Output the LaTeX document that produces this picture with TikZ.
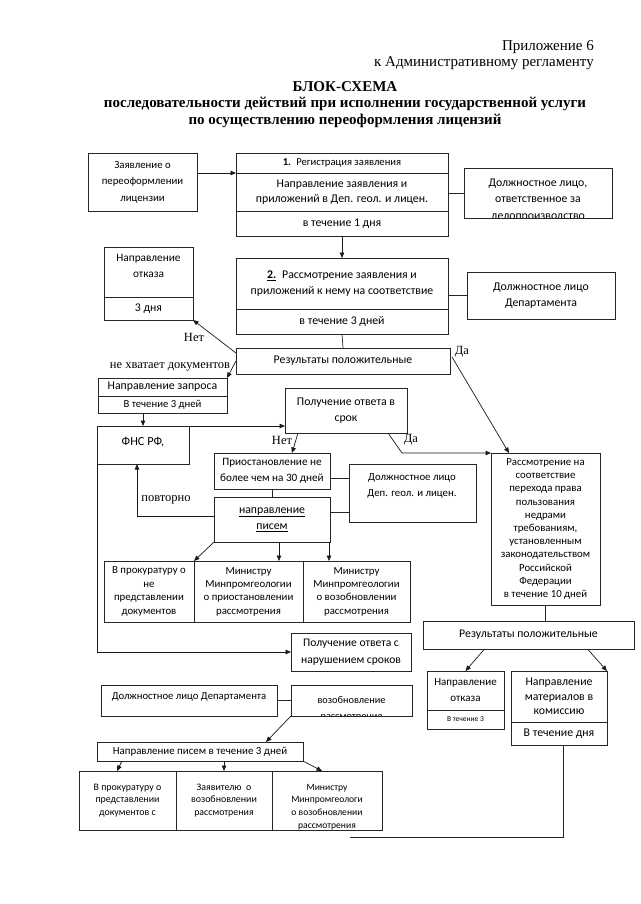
\documentclass[tikz,border=0pt]{standalone}
\usepackage{fontspec}
\setmainfont{Liberation Serif}
\newfontfamily\carl{Carlito}
\usetikzlibrary{arrows.meta}
\newcommand\bfnt{\carl\fontsize{11.8}{15.5}\selectfont}
\newcommand\fsz[2]{\carl\fontsize{#1}{#2}\selectfont}
\tikzset{
  box/.style={draw=black!85, line width=0.7pt, inner sep=1pt, outer sep=0pt, align=center, font=\bfnt},
  txt/.style={inner sep=0pt, align=center, font=\bfnt},
  lbl/.style={inner sep=0pt, font=\fontsize{12.5}{14}\selectfont},
  arr/.style={-{Triangle[length=5.5pt,width=4.5pt]}, line width=0.7pt, draw=black!90},
  ln/.style={line width=0.7pt, draw=black!85},
  titl/.style={inner sep=0pt, font=\fontsize{15}{17}\selectfont},
  titb/.style={inner sep=0pt, font=\bfseries\fontsize{15}{17}\selectfont},
}
\newcommand\mkbox[7][]{\node[box,minimum width={(#5-#3)*1pt},minimum height={(#6-#4)*1pt},#1] (#2) at ({(#3+#5)/2},{(#4+#6)/2}) {#7};}
\begin{document}
\begin{tikzpicture}[x=1pt,y=-1pt]
\fill[white] (0,0) rectangle (640,904);
\useasboundingbox (0,0) rectangle (640,904);
% titles
\node[titl,anchor=east] (app1) at (594,47) {Приложение 6};
\node[titl,anchor=east] (app2) at (594,63) {к Административному регламенту};
\node[titb] (t1) at (345,87) {БЛОК-СХЕМА};
\node[titb] (t2) at (345,104) {последовательности действий при исполнении государственной услуги};
\node[titb] (t3) at (345,121) {по осуществлению переоформления лицензий};
% row 1
\mkbox[font=\fsz{10.8}{16.5}]{zayav}{88}{153}{197}{211}{Заявление о\\переоформлении\\лицензии}
\mkbox[font=\fsz{10.6}{12}]{b1a}{236}{153}{448}{173}{\textbf{1.}\enspace Регистрация заявления}
\mkbox{b1b}{236}{173}{448}{211}{Направление заявления и\\приложений в Деп. геол. и лицен.}
\mkbox{b1c}{236}{211}{448}{236}{в течение 1 дня}
\begin{scope}
\clip (464,168) rectangle (612,218);
\node[txt,font=\fsz{11.8}{16.5}] (dl1t) at (538,200) {Должностное лицо,\\ответственное за\\делопроизводство};
\end{scope}
\mkbox{dl1}{464}{168}{612}{218}{}
% row 2
\mkbox{b2a}{236}{258}{448}{309}{\underline{\textbf{2.}}\enspace Рассмотрение заявления и\\приложений к нему на соответствие}
\mkbox{b2b}{236}{309}{448}{334}{в течение 3 дней}
\mkbox{dl2}{467}{272}{615}{319}{Должностное лицо\\Департамента}
\mkbox{otk1a}{104}{247}{193}{297}{}
\node[txt,font=\fsz{11.3}{16}] (otk1t) at (148.5,266) {Направление\\отказа};
\mkbox{otk1b}{104}{297}{193}{320}{3 дня}
\mkbox{rez1}{236}{348}{450}{374}{Результаты положительные}
% row 3
\mkbox{zapa}{98}{378}{227}{396}{Направление запроса}
\mkbox[font=\fsz{10.7}{12}]{zapb}{98}{396}{227}{413}{В течение 3 дней}
\mkbox{fns}{97}{426}{189}{464}{}
\node[txt,font=\fsz{12.3}{14}] (fnst) at (143,442) {ФНС РФ,};
\mkbox[font=\fsz{11.8}{16.5}]{pol}{285}{388}{407}{433}{Получение ответа в\\срок}
\mkbox[font=\fsz{11.2}{16}]{prio}{214}{453}{330}{489}{Приостановление не\\более чем на 30 дней}
\mkbox{dl3}{349}{464}{476}{522}{}
\node[txt,font=\fsz{10.8}{16}] (dl3t) at (412,486) {Должностное лицо\\Деп. геол. и лицен.};
\mkbox[font=\fsz{11.8}{16.5}]{pis}{214}{497}{330}{542}{\underline{направление}\\\underline{писем}}
\mkbox[font=\fsz{10.8}{13.4}]{tb1}{104}{561}{194}{622}{В прокуратуру о\\не\\представлении\\документов}
\mkbox[font=\fsz{10.8}{13.4}]{tb2}{194}{561}{303}{622}{Министру\\Минпромгеологии\\о приостановлении\\рассмотрения}
\mkbox[font=\fsz{10.8}{13.4}]{tb3}{303}{561}{410}{622}{Министру\\Минпромгеологии\\о возобновлении\\рассмотрения}
\mkbox[font=\fsz{10.8}{13.2}]{rasm}{491}{453}{600}{605}{Рассмотрение на\\соответствие\\перехода права\\пользования\\недрами\\требованиям,\\установленным\\законодательством\\Российской\\Федерации\\в течение 10 дней}
\mkbox[font=\fsz{11.6}{17}]{pol2}{291}{633}{411}{671}{Получение ответа с\\нарушением сроков}
\mkbox{rez2}{423}{621}{634}{649}{Результаты положительные}
\mkbox[font=\fsz{11}{16}]{otk2a}{427}{671}{504}{710}{Направление\\отказа}
\mkbox[font=\fsz{7.5}{9}]{otk2b}{427}{710}{504}{729}{В течение 3}
\mkbox[font=\fsz{11.8}{14.5}]{mata}{511}{671}{607}{722}{Направление\\материалов в\\комиссию}
\mkbox[font=\fsz{11.8}{14}]{matb}{511}{722}{607}{745}{В течение дня}
\mkbox{dl4}{101}{685}{277}{716}{}
\node[txt,font=\fsz{10.7}{12}] (dl4t) at (189,697) {Должностное лицо Департамента};
\begin{scope}
\clip (291,685) rectangle (412,716);
\node[txt,font=\fsz{10.3}{16}] (vozt) at (351.5,709) {возобновление\\рассмотрения};
\end{scope}
\mkbox{voz}{291}{685}{412}{716}{}
\mkbox[font=\fsz{10.9}{12}]{nap3}{97}{742}{303}{761}{Направление писем в течение 3 дней}
\mkbox[font=\fsz{9.9}{12.6}]{bt1}{79}{771}{176}{830}{В прокуратуру о\\представлении\\документов с}
\mkbox[font=\fsz{9.9}{12.6}]{bt2}{176}{771}{272}{830}{Заявителю\ \ о\\возобновлении\\рассмотрения}
\begin{scope}
\clip (272,771) rectangle (382,830);
\node[txt,font=\fsz{9.6}{12.8}] (bt3t) at (327,807) {Министру\\Минпромгеологи\\о возобновлении\\рассмотрения};
\end{scope}
\mkbox{bt3}{272}{771}{382}{830}{}
% labels
\node[lbl] (net1) at (194,337) {Нет};
\node[lbl] (nehv) at (170,367) {не хватает документов};
\node[lbl] (da1) at (462,352) {Да};
\node[lbl] (net2) at (282,440) {Нет};
\node[lbl] (da2) at (411,440) {Да};
\node[lbl] (povt) at (166,500) {повторно};
% connectors
\draw[arr] (zayav.east |- b1b.north) -- (b1b.north west);
\draw[ln] (dl1.west -| b1b.east) -- (dl1.west);
\draw[arr] (b1c.south) -- (b2a.north);
\draw[ln] (dl2.west -| b2a.east) -- (dl2.west);
\draw[ln] (b2b.south) -- (rez1.north);
\draw[arr] ([yshift=-5pt]rez1.north west) -- (otk1b.south east);
\draw[arr] (rez1.west) -- (zapa.north east);
\draw[arr] ([xshift=2pt,yshift=-9pt]rez1.north east) -- ([xshift=18pt]rasm.north west);
\draw[arr] (fns.north |- zapb.south) -- (fns.north);
\draw[arr] (fns.north east) -- (fns.north east -| pol.west);
\draw[arr] ([xshift=13pt]pol.south west) -- ([xshift=78pt]prio.north west);
\coordinate (dabend) at (402,453);
\draw[arr] ([xshift=-19pt]pol.south east) -- (dabend) -- (rasm.north west);
\draw[ln] ([yshift=-7pt]prio.east) -- ([yshift=-7pt]prio.east -| dl3.west);
\draw[ln] ([yshift=7pt]pis.east) -- ([yshift=7pt]pis.east -| dl3.west);
\draw[ln] (prio.south) -- (pis.north);
\draw[arr] ([yshift=3pt]pis.west) -| ([xshift=-6pt]fns.south);
\draw[arr] (pis.south west) -- (tb1.north east);
\draw[arr] ([xshift=7pt]pis.south) -- ([xshift=7pt]pis.south |- tb2.north);
\draw[arr] ([xshift=-1pt]pis.south east) -- ([xshift=-1pt]pis.south east |- tb3.north);
\draw[arr] (fns.south west) |- (pol2.west);
\draw[ln] (rasm.south) -- (rasm.south |- rez2.north);
\draw[arr] ([xshift=-44pt]rez2.south) -- (otk2a.north);
\draw[arr] ([xshift=59pt]rez2.south) -- (mata.north east);
\coordinate (endln) at (350,837);
\draw[ln] ([xshift=4pt]matb.south) |- (endln);
\draw[ln] (dl4.east) -- (voz.west);
\draw[arr] (voz.south west) -- ([xshift=66pt]nap3.north);
\draw[arr] ([xshift=25pt]nap3.south west) -- ([xshift=38pt]bt1.north west);
\draw[arr] (bt2.north |- nap3.south) -- (bt2.north);
\draw[arr] (nap3.south east) -- ([xshift=50pt]bt3.north west);
\end{tikzpicture}
\end{document}
